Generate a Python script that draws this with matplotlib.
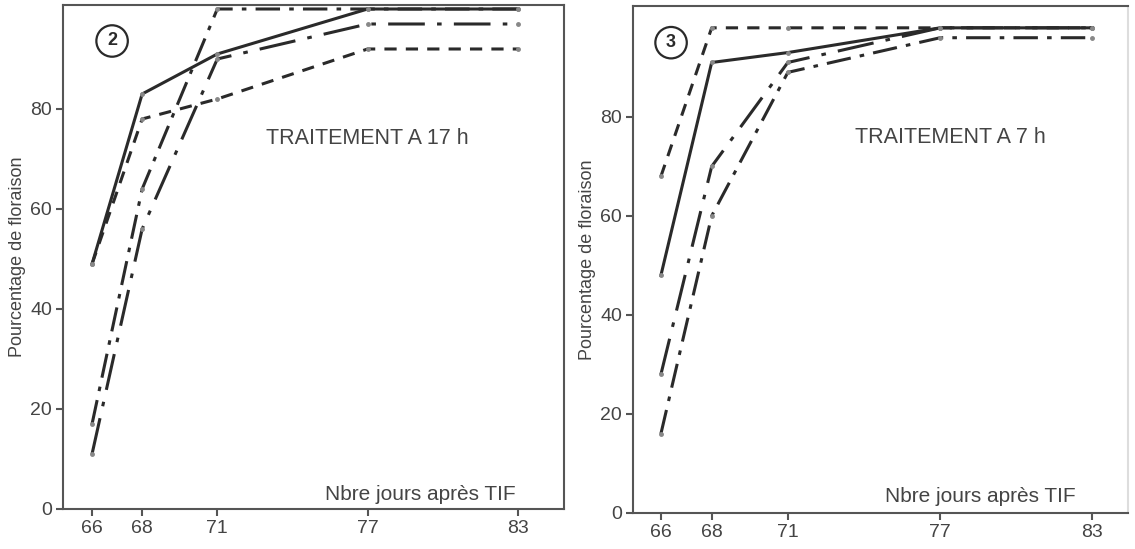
import matplotlib
matplotlib.use("Agg")
import numpy as np
from matplotlib import pyplot as plt

jours = [66, 68, 71, 77, 83]

# traitement a 17h (panneau 2)
p2_solid = [49, 83, 91, 100, 100]
p2_court = [49, 78, 82, 92, 92]
p2_mixte = [17, 64, 100, 100, 100]
p2_long = [11, 56, 90, 97, 97]

# traitement a 7h (panneau 3)
p3_solid = [48, 91, 93, 98, 98]
p3_court = [68, 98, 98, 98, 98]
p3_mixte = [16, 60, 89, 96, 96]
p3_long = [28, 70, 91, 98, 98]

yticks = [0, 20, 40, 60, 80]

ink = "#2a2a2a"
txt = "#444444"
plt.rcParams['font.family'] = ['Liberation Sans', 'DejaVu Sans']

fig = plt.figure(figsize=(11.35, 5.49), dpi=100)
ax2 = fig.add_axes([0.0555, 0.0729, 0.4414, 0.918])
ax3 = fig.add_axes([0.5577, 0.0656, 0.4361, 0.9234])

styles = {
    "solid": "-",
    "court": (0, (4, 3)),
    "mixte": (0, (8, 3, 1.5, 3)),
    "long": (0, (12, 4, 1.5, 4)),
}

def panel(ax, series, ytop, xlim, num, titre, tpos, npos, lpos):
    for vals, key in series:
        ax.plot(jours, vals, linestyle=styles[key], color=ink, lw=2.2,
                marker="o", ms=2.5, mfc="#888888", mec="#888888")
    ax.set_xlim(*xlim)
    ax.set_ylim(0, ytop)
    ax.set_xticks(jours)
    ax.set_yticks(yticks)
    ax.tick_params(axis="both", colors="#555555", labelcolor=txt,
                   labelsize=14, length=5, width=1.5, pad=3)
    for s in ax.spines.values():
        s.set_color("#555555")
        s.set_linewidth(1.5)
    ax.set_ylabel("Pourcentage de floraison", color=txt, fontsize=13,
                  labelpad=3)
    ax.text(*tpos, titre, color=txt, fontsize=15.5, ha="center", va="center")
    ax.text(*lpos, "Nbre jours après TIF", color=txt, fontsize=15,
            ha="center", va="baseline")
    ax.text(*npos, num, color=ink, fontsize=13, fontweight="bold",
            ha="center", va="center",
            bbox=dict(boxstyle="circle,pad=0.4", fc="white", ec=ink, lw=1.6))

panel(ax2, [(p2_court, "court"), (p2_long, "long"), (p2_mixte, "mixte"),
            (p2_solid, "solid")],
      100.8, (64.84, 84.84), "2", "TRAITEMENT A 17 h",
      (77.0, 74), (66.8, 93.6), (79.1, 1.8))

panel(ax3, [(p3_court, "court"), (p3_long, "long"), (p3_mixte, "mixte"),
            (p3_solid, "solid")],
      102.4, (64.9, 84.4), "3", "TRAITEMENT A 7 h",
      (77.4, 75.8), (66.4, 95), (78.6, 2.2))
ax3.spines["right"].set_color("#dddddd")

fig.savefig("out.png", dpi=100)
